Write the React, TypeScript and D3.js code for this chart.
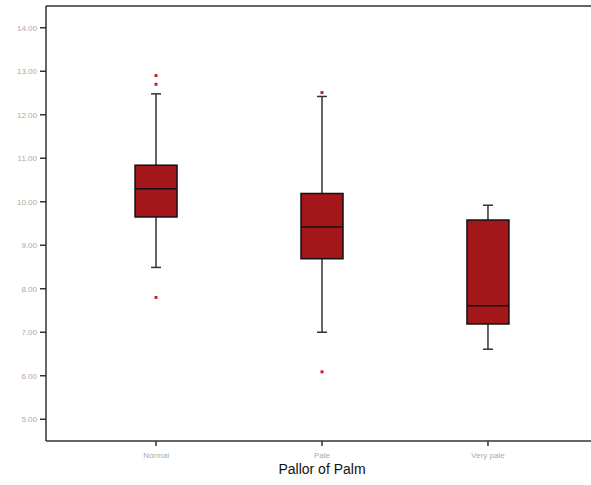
import React from "react";
import * as d3 from "d3";

const categories = ["Normal", "Pale", "Very pale"];
const q1 = [9.65, 8.69, 7.19];
const medians = [10.3, 9.42, 7.61];
const q3 = [10.84, 10.19, 9.58];
const whiskerLow = [8.49, 7.0, 6.61];
const whiskerHigh = [12.48, 12.42, 9.92];
const outliers: number[][] = [[12.9, 12.7, 7.8], [12.51, 6.09], []];
const yTicks = [5, 6, 7, 8, 9, 10, 11, 12, 13, 14];

export default function App() {
  const W = 591, H = 485;
  const left = 46, top = 6, bottom = 441, right = 598;
  const y = d3.scaleLinear().domain([4.5, 14.5]).range([bottom, top]);
  const x = d3.scalePoint<string>().domain(categories).range([left, right]).padding(0.663);
  const boxW = 42;
  const capW = 10;
  return (
    <svg width={W} height={H} style={{ position: "fixed", left: 0, top: 0, background: "#fff" }}>
      {categories.map((c, i) => {
        const cx = x(c)!;
        return (
          <g key={c}>
            <line x1={cx} x2={cx} y1={y(whiskerHigh[i])} y2={y(q3[i])} stroke="#333" strokeWidth={1.5} />
            <line x1={cx} x2={cx} y1={y(q1[i])} y2={y(whiskerLow[i])} stroke="#333" strokeWidth={1.5} />
            <line x1={cx - capW / 2} x2={cx + capW / 2} y1={y(whiskerHigh[i])} y2={y(whiskerHigh[i])} stroke="#333" strokeWidth={1.5} />
            <line x1={cx - capW / 2} x2={cx + capW / 2} y1={y(whiskerLow[i])} y2={y(whiskerLow[i])} stroke="#333" strokeWidth={1.5} />
            <rect x={cx - boxW / 2} y={y(q3[i])} width={boxW} height={y(q1[i]) - y(q3[i])} fill="#a3161a" stroke="#111" strokeWidth={1.5} />
            <line x1={cx - boxW / 2} x2={cx + boxW / 2} y1={y(medians[i])} y2={y(medians[i])} stroke="#111" strokeWidth={1.5} />
            {outliers[i].map((v, j) => (
              <rect key={j} x={cx - 1.5} y={y(v) - 1.5} width={3} height={3} fill="#c8202a" />
            ))}
            <line x1={cx} x2={cx} y1={bottom} y2={bottom + 5} stroke="#333" strokeWidth={1.5} />
            <text x={cx} y={bottom + 17} textAnchor="middle" fontFamily="Liberation Sans, Arial, sans-serif" fontSize={8} fill="#aaa">{c}</text>
          </g>
        );
      })}
      {yTicks.map((t) => (
        <g key={t}>
          <line x1={left - 6} x2={left} y1={y(t)} y2={y(t)} stroke="#333" strokeWidth={1.5} />
          <text x={left - 9} y={y(t) + 3} textAnchor="end" fontFamily="Liberation Sans, Arial, sans-serif" fontSize={8} fill="#aaa">{t.toFixed(2)}</text>
        </g>
      ))}
      <line x1={left} x2={left} y1={top} y2={bottom} stroke="#333" strokeWidth={1.5} />
      <line x1={left} x2={W} y1={top} y2={top} stroke="#333" strokeWidth={1.5} />
      <line x1={left} x2={W} y1={bottom} y2={bottom} stroke="#333" strokeWidth={1.5} />
      <text x={322} y={474} textAnchor="middle" fontFamily="Liberation Sans, Arial, sans-serif" fontSize={14} fill="#111">Pallor of Palm</text>
    </svg>
  );
}
